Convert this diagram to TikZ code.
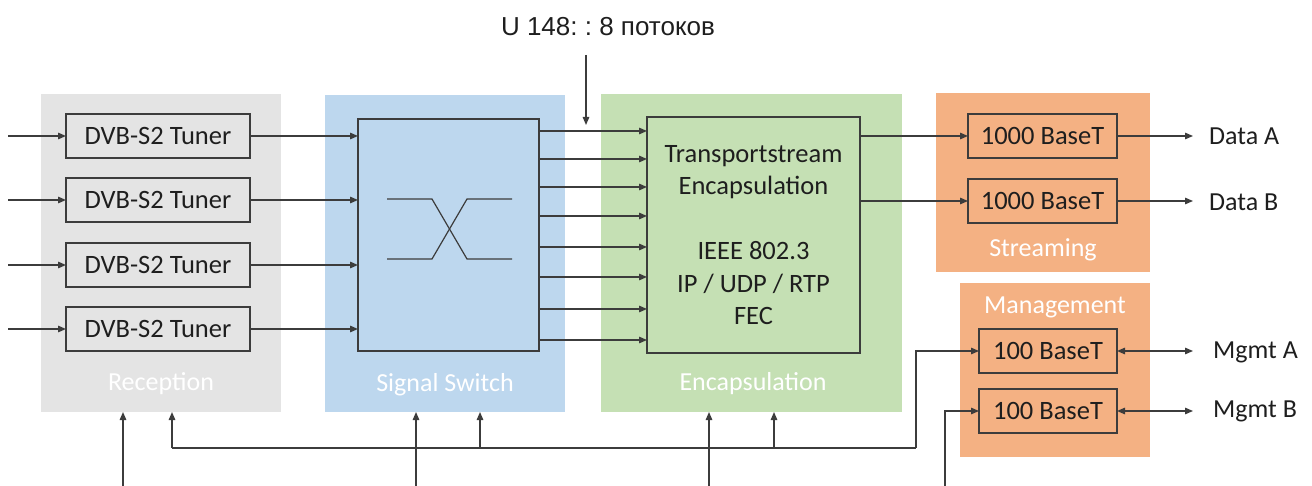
\documentclass[tikz,border=0pt]{standalone}
\usepackage{fontspec}
\setmainfont{Carlito}
\newfontfamily\arialfont{Liberation Sans}
\usetikzlibrary{arrows.meta}
\definecolor{lc}{HTML}{3C3C3C}
\definecolor{tc}{HTML}{1E1E1E}
\definecolor{pgrey}{HTML}{E4E4E4}
\definecolor{pblue}{HTML}{BDD7EE}
\definecolor{pgreen}{HTML}{C5E0B4}
\definecolor{porange}{HTML}{F4B183}
\frenchspacing
\tikzset{
  panel/.style={draw=none, inner sep=0pt, outer sep=0pt},
  plabel/.style={text=white, font=\fontsize{26}{30}\selectfont, inner sep=0pt},
  blk/.style={draw=lc, line width=1.3pt, inner sep=0pt, outer sep=0pt, text=tc, font=\fontsize{26.5}{30}\selectfont},
  conn/.style={draw=lc, line width=1.4pt, -{Triangle[length=8pt,width=6.5pt]}},
  conn2/.style={draw=lc, line width=1.4pt, {Triangle[length=8pt,width=6.5pt]}-{Triangle[length=8pt,width=6.5pt]}},
  plain/.style={draw=lc, line width=1.4pt},
  olabel/.style={text=tc, font=\fontsize{26}{30}\selectfont, inner sep=0pt, anchor=west},
}
\begin{document}
\begin{tikzpicture}[x=1pt,y=-1pt]
\useasboundingbox (0,0) rectangle (1312,486);
% panels
\node[panel, fill=pgrey, minimum width=240pt, minimum height=318pt] (prec) at (161,253) {};
\node[panel, fill=pblue, minimum width=240pt, minimum height=317pt] (psw) at (445,253.5) {};
\node[panel, fill=pgreen, minimum width=301pt, minimum height=318pt] (penc) at (751.5,253) {};
\node[panel, fill=porange, minimum width=214pt, minimum height=179pt] (pstr) at (1043,182.5) {};
\node[panel, fill=porange, minimum width=190pt, minimum height=174pt] (pmgt) at (1055,370) {};
\node[plabel] (lrec) at (161,384) {Reception};
\node[plabel] (lsw) at (445,385) {Signal Switch};
\node[plabel] (lenc) at (753,384) {Encapsulation};
\node[plabel] (lstr) at (1043,250) {Streaming};
\node[plabel] (lmgt) at (1055,307) {Management};
% title
\node[text=tc, font=\arialfont\fontsize{26}{30}\selectfont, inner sep=0pt] (title) at (608,27) {U 148: : 8 потоков};
\coordinate (tarr) at (586,55);
% tuners
\foreach \i/\y in {1/136,2/200,3/265,4/329}{
  \node[blk, minimum width=184pt, minimum height=44pt] (t\i) at (158,\y) {DVB-S2 Tuner};
  \coordinate (in\i) at (8,\y);
  \draw[conn] (in\i) -- (t\i.west);
}
% switch
\node[blk, minimum width=181pt, minimum height=232pt] (sw) at (448.5,235) {};
\foreach \i in {1,...,4}{
  \draw[conn] (t\i.east) -- (t\i.east -| sw.west);
}
\coordinate (c1) at (387,199);
\coordinate (c2) at (432,199);
\coordinate (c3) at (467,259);
\coordinate (c4) at (512,259);
\coordinate (c5) at (387,259);
\coordinate (c6) at (432,259);
\coordinate (c7) at (467,199);
\coordinate (c8) at (512,199);
\draw[plain, line width=1.2pt] (c1) -- (c2) -- (c3) -- (c4);
\draw[plain, line width=1.2pt] (c5) -- (c6) -- (c7) -- (c8);
% encapsulation
\node[blk, minimum width=213pt, minimum height=236pt, align=center, font=\fontsize{26.5}{32.4}\selectfont] (enc) at (753.5,235) {Transportstream\\Encapsulation\\[32.4pt]IEEE 802.3\\IP / UDP / RTP\\FEC};
\foreach \y in {131,159,187,216,247,277,309,340}{
  \draw[conn] (sw.east |- 0,\y) -- (enc.west |- 0,\y);
}
\draw[conn] (tarr) -- (tarr |- 0,125);
% streaming
\node[blk, minimum width=149pt, minimum height=44pt] (s1) at (1042.5,136) {1000 BaseT};
\node[blk, minimum width=149pt, minimum height=44pt] (s2) at (1042.5,201) {1000 BaseT};
\draw[conn] (enc.east |- s1) -- (s1.west);
\draw[conn] (enc.east |- s2) -- (s2.west);
\coordinate (da) at (1193,136);
\coordinate (db) at (1193,201);
\draw[conn] (s1.east) -- (da);
\draw[conn] (s2.east) -- (db);
\node[olabel] (lda) at (1209,136) {Data A};
\node[olabel] (ldb) at (1209,202) {Data B};
% management
\node[blk, minimum width=138pt, minimum height=44pt] (m1) at (1048,351) {100 BaseT};
\node[blk, minimum width=138pt, minimum height=44pt] (m2) at (1048,411) {100 BaseT};
\coordinate (ma) at (1193,351);
\coordinate (mb) at (1193,411);
\draw[conn2] (m1.east) -- (ma);
\draw[conn2] (m2.east) -- (mb);
\node[olabel] (lma) at (1213,352) {Mgmt A};
\node[olabel] (lmb) at (1213,411) {Mgmt B};
% bottom connections
\coordinate (b1) at (123,486);
\coordinate (b2) at (416,486);
\coordinate (b3) at (709,486);
\coordinate (b4) at (945,486);
\draw[conn] (b1) -- (b1 |- prec.south);
\draw[conn] (b2) -- (b2 |- psw.south);
\draw[conn] (b3) -- (b3 |- penc.south);
\draw[conn] (b4) -- (b4 |- m2.west) -- (m2.west);
\coordinate (bus1) at (172,448);
\coordinate (bus2) at (480,448);
\coordinate (bus3) at (774,448);
\coordinate (bus4) at (916,448);
\draw[conn] (bus4) -- (bus4 |- m1.west) -- (m1.west);
\draw[conn] (bus1) -- (bus1 |- prec.south);
\draw[plain] (bus1) -- (bus4);
\draw[conn] (bus2) -- (bus2 |- psw.south);
\draw[conn] (bus3) -- (bus3 |- penc.south);
\end{tikzpicture}
\end{document}
